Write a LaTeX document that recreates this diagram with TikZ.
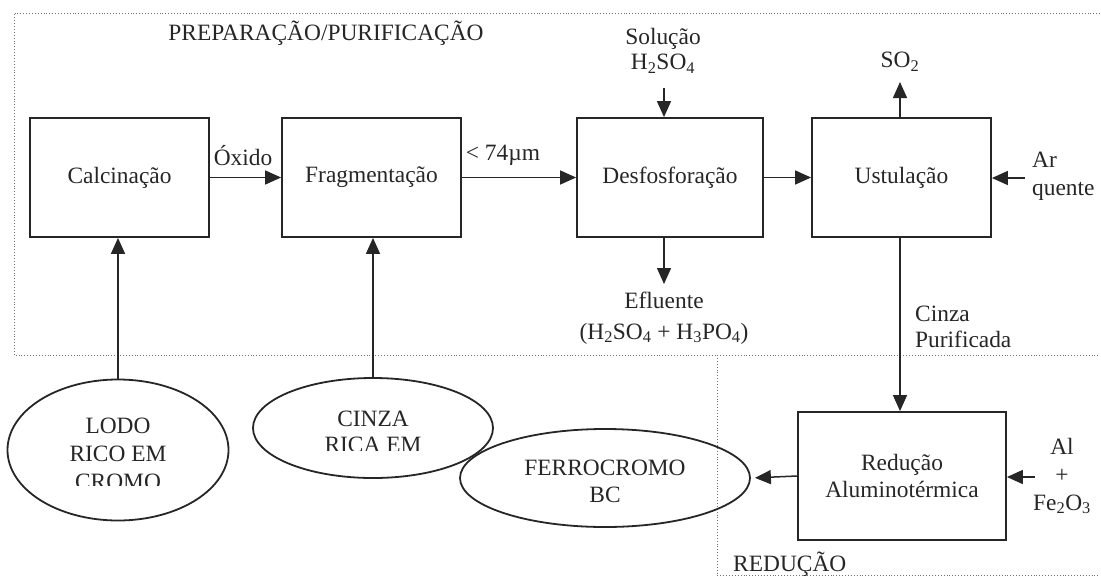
\documentclass[tikz,border=0pt]{standalone}
\usepackage{fontspec}
\setmainfont{Liberation Serif}
\usetikzlibrary{arrows.meta,shapes.geometric}
\begin{document}
\begin{tikzpicture}[x=1pt,y=-1pt,
  every node/.style={font=\fontsize{23.4}{27}\selectfont, inner sep=0pt, text=black!85},
  procbox/.style={draw=black!85, line width=1.8pt, minimum height=119pt},
  blob/.style={draw=black!85, ellipse, line width=1.8pt},
  flow/.style={draw=black!85, line width=1.5pt, -{Triangle[length=16pt,width=14pt]}},
  region/.style={draw=black!55, line width=0.9pt, dotted}]
\useasboundingbox (0,0) rectangle (1101,579);
% regions
\draw[region] (1100,13) -- (14,13) -- (14,355) -- (1100,355);
\draw[region] (717,355) -- (717,575) -- (1100,575);
\node (tprep) at (326,33) {PREPARAÇÃO/PURIFICAÇÃO};
\node[anchor=west] (tred) at (733,564) {REDUÇÃO};
% process boxes
\node[procbox, minimum width=179pt] (calc) at (119.5,177.5) {Calcinação};
\node[procbox, minimum width=179pt] (frag) at (371.5,177.5) {Fragmentação};
\node[procbox, minimum width=186pt] (desf) at (670,177.5) {Desfosforação};
\node[procbox, minimum width=179pt] (ust) at (901.5,177.5) {Ustulação};
\node[procbox, minimum width=208pt, minimum height=128pt, align=center] (red) at (902,476) {Redução\\Aluminotérmica};
% ellipses
\node[blob, minimum width=221pt, minimum height=141pt] (lodo) at (118,450) {};
\node[blob, minimum width=240pt, minimum height=100pt] (cinza) at (373,428) {};
\node[blob, minimum width=290pt, minimum height=98pt] (ferro) at (605,478) {};
\begin{scope}
  \clip (0,300) rectangle (460,485.5);
  \node[align=center, font=\fontsize{23.4}{28}\selectfont] (tlodo) at (118,454) {LODO\\RICO EM\\CROMO};
\end{scope}
\begin{scope}
  \clip (250,380) rectangle (500,450);
  \node[align=center, font=\fontsize{23.4}{26}\selectfont] (tcinza) at (373,432) {CINZA\\RICA EM};
\end{scope}
\node[align=center] (tferro) at (605,481.5) {FERROCROMO\\BC};
% labels
\node[align=center, font=\fontsize{23.4}{25}\selectfont] (tsol) at (663,51) {Solução\\H\textsubscript{2}SO\textsubscript{4}};
\node (tso2) at (900,62) {SO\textsubscript{2}};
\node (toxido) at (243,156) {Óxido};
\node (tmicro) at (503,155) {< 74µm};
\node[anchor=west, align=left, font=\fontsize{23.4}{28}\selectfont] (tar) at (1032,176) {Ar\\quente};
\node[align=center, font=\fontsize{23.4}{31}\selectfont] (tefl) at (664,318) {Efluente\\(H\textsubscript{2}SO\textsubscript{4} + H\textsubscript{3}PO\textsubscript{4})};
\node[anchor=west, align=left, font=\fontsize{23.4}{26}\selectfont] (tcp) at (915,327) {Cinza\\Purificada};
\node[align=center, font=\fontsize{23.4}{28}\selectfont] (tal) at (1062,476) {Al\\+\\Fe\textsubscript{2}O\textsubscript{3}};
% free ends
\coordinate (solin) at (664,88);
\coordinate (so2out) at (900,82);
\coordinate (eflout) at (664,284);
\coordinate (arin) at (1025,178);
\coordinate (alin) at (1035,477);
% connectors
\draw[flow] (calc) -- (frag);
\draw[flow] (frag) -- (desf);
\draw[flow] (desf) -- (ust);
\draw[flow] (arin) -- (ust.east |- arin);
\draw[flow] (solin) -- (solin |- desf.north);
\draw[flow] (so2out |- ust.north) -- (so2out);
\draw[flow] (eflout |- desf.south) -- (eflout);
\draw[flow] (lodo.north) -- (lodo.north |- calc.south);
\draw[flow] (cinza.north) -- (cinza.north |- frag.south);
\draw[flow] (ust.south -| 900,0) -- (red.north -| 900,0);
\draw[flow] (alin) -- (red.east |- alin);
\draw[flow, shorten >=4pt] (red.west) -- (ferro.east);
\end{tikzpicture}
\end{document}
